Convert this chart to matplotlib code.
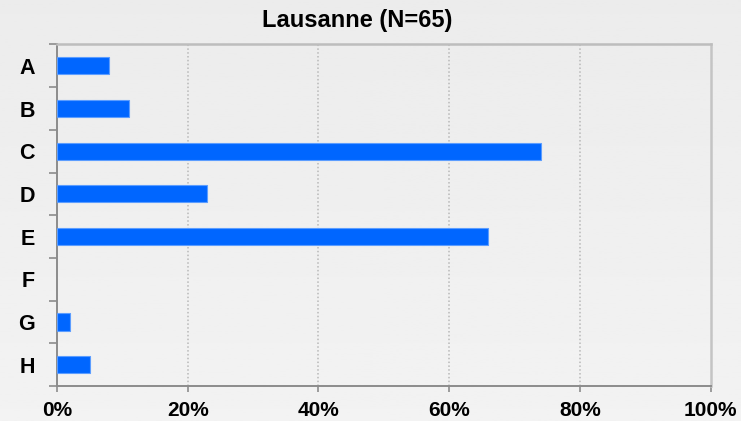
import matplotlib
matplotlib.use("Agg")
import matplotlib.pyplot as plt
import numpy as np
from matplotlib.ticker import FixedLocator, PercentFormatter

categories = ["A", "B", "C", "D", "E", "F", "G", "H"]
values = [8, 11, 74, 23, 66, 0, 2, 5]
x_ticks = [0, 20, 40, 60, 80, 100]
title = "Lausanne (N=65)"

plt.rcParams['font.family'] = ['Liberation Sans', 'DejaVu Sans']

fig = plt.figure(figsize=(7.41, 4.21), dpi=100)
W, H = 741, 421

# background gradient
bg = fig.add_axes([0, 0, 1, 1], zorder=-10)
grad = np.linspace(0.925, 0.95, 256).reshape(-1, 1)
bg.imshow(grad, aspect='auto', cmap='gray', vmin=0, vmax=1, extent=[0, 1, 0, 1], origin='upper')
bg.axis('off')

left, right, top, bottom = 57, 710.5, 44.5, 386
ax = fig.add_axes([left / W, 1 - bottom / H, (right - left) / W, (bottom - top) / H])
ax.patch.set_alpha(0)

y = np.arange(len(categories))
lws = [0.8 if v > 0 else 0 for v in values]
ax.barh(y, values, height=0.4, color='#0066ff', edgecolor='#5c9dff', linewidth=lws, zorder=3)

ax.set_xlim(0, 100)
ax.set_ylim(len(categories) - 0.5, -0.5)

ax.set_yticks(y)
ax.set_yticklabels(categories, fontsize=15.5, fontweight='bold')
ax.yaxis.set_minor_locator(FixedLocator(np.arange(-0.5, len(categories), 1)))
ax.tick_params(axis='y', which='major', length=0, pad=16)
ax.tick_params(axis='y', which='minor', length=5.5, width=1.2, color='#8c8c8c', direction='out')

ax.set_xticks(x_ticks)
ax.xaxis.set_major_formatter(PercentFormatter(decimals=0))
for lab in ax.get_xticklabels():
    lab.set_fontweight('bold')
    lab.set_fontsize(15)
ax.tick_params(axis='x', which='major', length=4.5, width=1.2, color='#8c8c8c', pad=6.5)

for xv in x_ticks[1:-1]:
    ax.axvline(xv, color='#b8b8b8', linestyle=(0, (1, 1.5)), linewidth=1.1, zorder=1)

ax.spines['left'].set_color('#8c8c8c')
ax.spines['left'].set_linewidth(1.4)
ax.spines['bottom'].set_color('#8c8c8c')
ax.spines['bottom'].set_linewidth(1.4)
ax.spines['top'].set_color('#bdbdbd')
ax.spines['top'].set_linewidth(1.8)
ax.spines['right'].set_color('#c4c4c4')
ax.spines['right'].set_linewidth(1.8)

fig.text(357 / W, 1 - 27.3 / H, title, fontsize=17, fontweight='bold', ha='center', va='baseline')

fig.savefig("out.png", dpi=100)
